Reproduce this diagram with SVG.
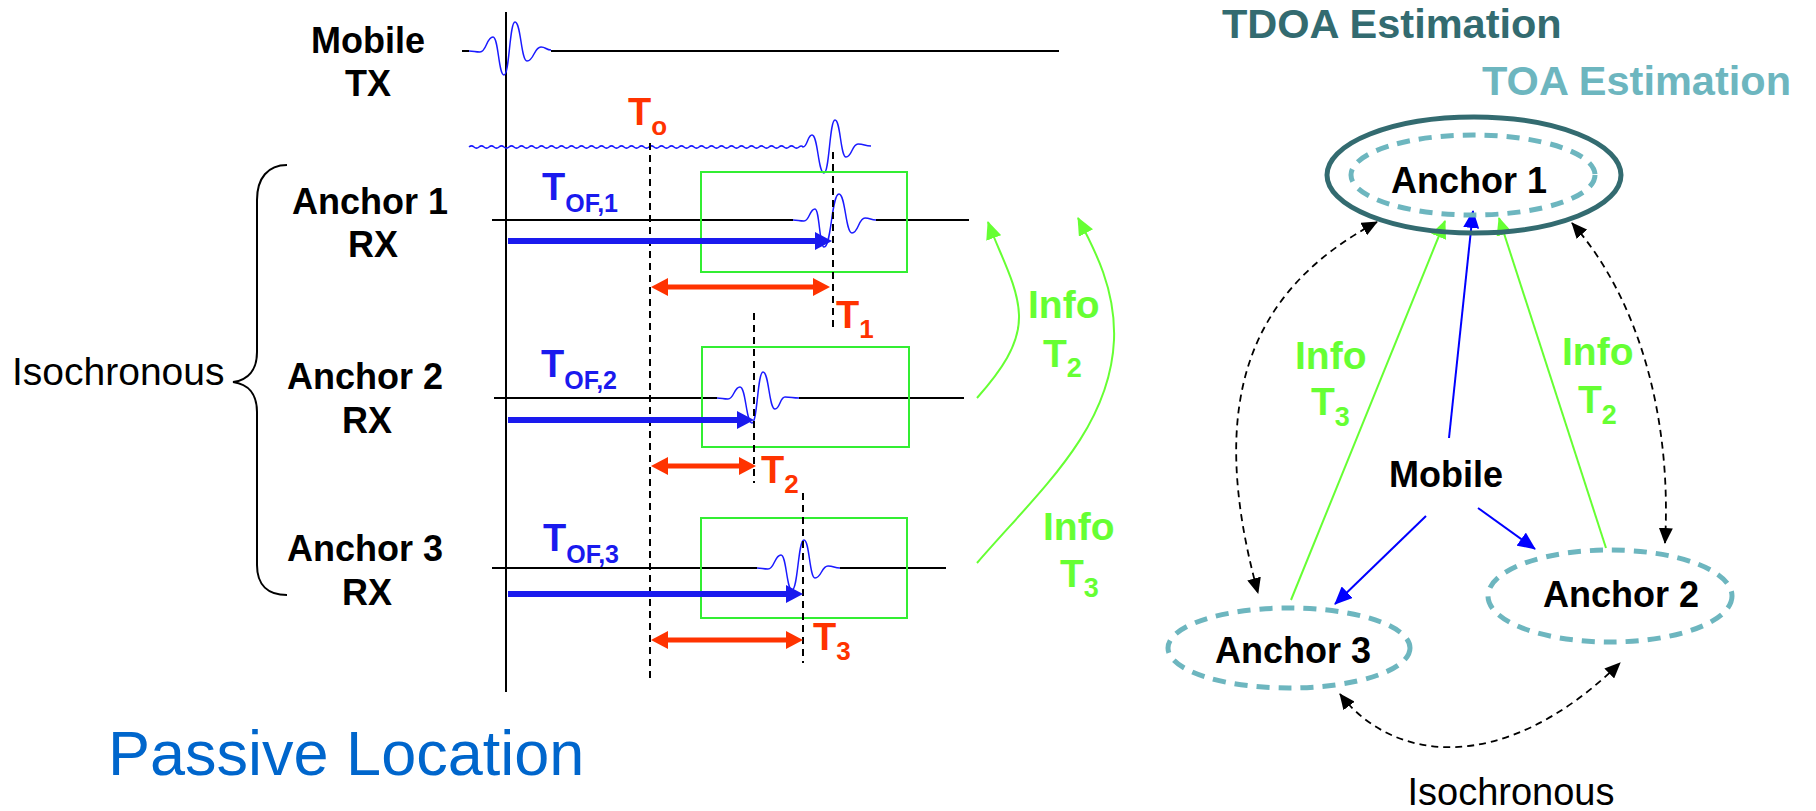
<svg xmlns="http://www.w3.org/2000/svg" width="1816" height="811" viewBox="0 0 1816 811">
<style>
text{font-family:"Liberation Sans",Arial,sans-serif}
.lbl{font-size:36px;font-weight:bold;fill:#000;text-anchor:middle}
.blk{stroke:#000;stroke-width:2;fill:none}
.dash{stroke:#000;stroke-width:2;fill:none;stroke-dasharray:7 5}
.pulse{stroke:#1a1aff;stroke-width:1.5;fill:none}
.win{stroke:#33ee33;stroke-width:2;fill:none}
.blue{fill:#1a1aee}
.red{fill:#ff3300}
.bt{font-size:38px;font-weight:bold}
.gtx{font-size:39px;font-weight:bold;fill:#66ff33}
.gline{stroke:#66ff33;stroke-width:2;fill:none}
.bline{stroke:#0000ff;stroke-width:2;fill:none}
.kdash{stroke:#000;stroke-width:1.8;fill:none;stroke-dasharray:7 5}
.toa{stroke:#6db6bf;stroke-width:5;fill:none;stroke-dasharray:13 9}
</style>
<defs>
<marker id="gHead" markerUnits="userSpaceOnUse" markerWidth="18" markerHeight="16" refX="17" refY="8" orient="auto"><path d="M0,0 L18,8 L0,16 Z" fill="#66ff33"/></marker>
<marker id="bHead" markerUnits="userSpaceOnUse" markerWidth="18" markerHeight="16" refX="17" refY="8" orient="auto"><path d="M0,0 L18,8 L0,16 Z" fill="#0000ff"/></marker>
<marker id="kHead" markerUnits="userSpaceOnUse" markerWidth="16" markerHeight="14" refX="15" refY="7" orient="auto-start-reverse"><path d="M0,0 L16,7 L0,14 Z" fill="#000"/></marker>
</defs>

<!-- left: timing diagram -->
<g id="axis">
<line x1="506" y1="12" x2="506" y2="692" class="blk"/>
</g>
<g id="brace">
<path class="blk" d="M287,165 C268,165 257,178 257,200 L257,352 C257,370 248,380 233,382 C248,384 257,394 257,412 L257,565 C257,585 268,595 287,595"/>
<text x="12" y="385" font-size="39" fill="#000">Isochronous</text>
</g>

<g id="mobile-tx">
<text class="lbl" x="368" y="53">Mobile</text>
<text class="lbl" x="368" y="96">TX</text>
<path class="blk" d="M462,51 H469 M551,51 H1059"/>
<path class="pulse" d="M469,51 C474.5,51 474.5,52 480,52 C486.5,52 486.5,37 493,37 C498.5,37 498.5,75 504,75 C509.5,75 509.5,22 515,22 C521,22 521,61 527,61 C534,61 534,47 541,47 C546,47 546,50 551,50"/>
</g>

<g id="received">
<path class="pulse" d="M469,147 q2.5,-2.2 5,0 t5,0 t5,0 t5,0 t5,0 t5,0 t5,0 t5,0 t5,0 t5,0 t5,0 t5,0 t5,0 t5,0 t5,0 t5,0 t5,0 t5,0 t5,0 t5,0 t5,0 t5,0 t5,0 t5,0 t5,0 t5,0 t5,0 t5,0 t5,0 t5,0 t5,0 t5,0 t5,0 t5,0 t5,0 t5,0 t5,0 t5,0 t5,0 t5,0 t5,0 t5,0 t5,0 t5,0 t5,0 t5,0 t5,0 t5,0 t5,0 t5,0 t5,0 t5,0 t5,0 t5,0 t5,0 t5,0 t5,0 t5,0 t5,0 t5,0 t5,0 t5,0 t5,0 t5,0 t5,0 t5,0 t4,0 C807.5,147 807.5,135 812,135 C818,135 818,173 824,173 C829.5,173 829.5,120 835,120 C840.5,120 840.5,157 846,157 C852,157 852,144 858,144 C864.5,144 864.5,146 871,146"/>
<text x="628" y="125" class="red bt">T<tspan font-size="26" dy="10">o</tspan></text>
<line x1="650" y1="143" x2="650" y2="680" class="dash"/>
</g>

<g id="anchor1-rx">
<text class="lbl" x="370" y="214">Anchor 1</text>
<text class="lbl" x="373" y="257">RX</text>
<path class="blk" d="M492,220 H793 M876,220 H969"/>
<rect class="win" x="701" y="172" width="206" height="100"/>
<path class="pulse" d="M793,220 C798.5,220 798.5,221 804,221 C809.5,221 809.5,209 815,209 C819.5,209 819.5,247 824,247 C831.5,247 831.5,194 839,194 C845.5,194 845.5,233 852,233 C858.5,233 858.5,218 865,218 C870.5,218 870.5,220 876,220"/>
<line x1="833" y1="152" x2="833" y2="327" class="dash"/>
<path d="M508,241 H816" stroke="#1a1aee" stroke-width="6"/>
<polygon class="blue" points="815,232 832,241 815,250"/>
<path d="M667,287 H814" stroke="#ff3300" stroke-width="5"/>
<polygon class="red" points="651,287 668,278 668,296"/>
<polygon class="red" points="830,287 813,278 813,296"/>
<text x="542" y="200" class="blue bt">T<tspan font-size="25" dy="12">OF,1</tspan></text>
<text x="836" y="328" class="red bt">T<tspan font-size="26" dy="10">1</tspan></text>
</g>

<g id="anchor2-rx">
<text class="lbl" x="365" y="389">Anchor 2</text>
<text class="lbl" x="367" y="433">RX</text>
<path class="blk" d="M494,398 H717 M799,398 H964"/>
<rect class="win" x="702" y="347" width="207" height="100"/>
<path class="pulse" d="M717,398 C722.5,398 722.5,399 728,399 C734,399 734,387 740,387 C746,387 746,423 752,423 C757.5,423 757.5,372 763,372 C769,372 769,409 775,409 C780,409 780,397 785,397 C792,397 792,398 799,398"/>
<line x1="754" y1="313" x2="754" y2="483" class="dash"/>
<path d="M508,420 H738" stroke="#1a1aee" stroke-width="6"/>
<polygon class="blue" points="737,411 754,420 737,429"/>
<path d="M667,466 H740" stroke="#ff3300" stroke-width="5"/>
<polygon class="red" points="651,466 668,457 668,475"/>
<polygon class="red" points="756,466 739,457 739,475"/>
<text x="541" y="377" class="blue bt">T<tspan font-size="25" dy="12">OF,2</tspan></text>
<text x="761" y="483" class="red bt">T<tspan font-size="26" dy="10">2</tspan></text>
</g>

<g id="anchor3-rx">
<text class="lbl" x="365" y="561">Anchor 3</text>
<text class="lbl" x="367" y="605">RX</text>
<path class="blk" d="M492,568 H757 M840,568 H946"/>
<rect class="win" x="701" y="518" width="206" height="100"/>
<path class="pulse" d="M757,568 C762.5,568 762.5,569 768,569 C774.5,569 774.5,555 781,555 C786.5,555 786.5,590 792,590 C798,590 798,540 804,540 C809.5,540 809.5,578 815,578 C821.5,578 821.5,566 828,566 C834,566 834,568 840,568"/>
<line x1="803" y1="493" x2="803" y2="663" class="dash"/>
<path d="M508,594 H787" stroke="#1a1aee" stroke-width="6"/>
<polygon class="blue" points="786,585 803,594 786,603"/>
<path d="M667,640 H787" stroke="#ff3300" stroke-width="5"/>
<polygon class="red" points="651,640 668,631 668,649"/>
<polygon class="red" points="803,640 786,631 786,649"/>
<text x="543" y="551" class="blue bt">T<tspan font-size="25" dy="12">OF,3</tspan></text>
<text x="813" y="650" class="red bt">T<tspan font-size="26" dy="10">3</tspan></text>
</g>

<g id="info-left">
<path class="gline" marker-end="url(#gHead)" d="M977,398 C1000,372 1020,345 1019,315 C1018,285 1000,255 988,222"/>
<path class="gline" marker-end="url(#gHead)" d="M977,563 C1040,490 1110,430 1114,340 C1116,290 1095,250 1078,218"/>
<text x="1028" y="318" class="gtx">Info</text>
<text x="1043" y="367" class="gtx">T<tspan font-size="27" dy="10">2</tspan></text>
<text x="1043" y="540" class="gtx">Info</text>
<text x="1060" y="587" class="gtx">T<tspan font-size="27" dy="10">3</tspan></text>
</g>

<text x="108" y="775" font-size="63" fill="#0066cc">Passive Location</text>

<!-- right: network diagram -->
<text x="1222" y="38" font-size="41.5" font-weight="bold" fill="#336b70">TDOA Estimation</text>
<text x="1482" y="95" font-size="41.5" font-weight="bold" fill="#6db6bf">TOA Estimation</text>

<g id="connectors">
<path class="kdash" marker-start="url(#kHead)" marker-end="url(#kHead)" d="M1377,222 C1250,290 1205,400 1258,593"/>
<path class="kdash" marker-start="url(#kHead)" marker-end="url(#kHead)" d="M1572,223 C1640,300 1672,420 1665,543"/>
<path class="kdash" marker-start="url(#kHead)" marker-end="url(#kHead)" d="M1340,694 C1390,760 1500,780 1620,663"/>
<line class="gline" marker-end="url(#gHead)" x1="1291" y1="600" x2="1445" y2="221"/>
<line class="gline" marker-end="url(#gHead)" x1="1606" y1="548" x2="1499" y2="218"/>
<line class="bline" marker-end="url(#bHead)" x1="1449" y1="438" x2="1473" y2="211"/>
<line class="bline" marker-end="url(#bHead)" x1="1426" y1="516" x2="1335" y2="604"/>
<line class="bline" marker-end="url(#bHead)" x1="1478" y1="508" x2="1535" y2="549"/>
<text x="1295" y="369" class="gtx">Info</text>
<text x="1311" y="415" class="gtx">T<tspan font-size="27" dy="11">3</tspan></text>
<text x="1562" y="365" class="gtx">Info</text>
<text x="1578" y="413" class="gtx">T<tspan font-size="27" dy="11">2</tspan></text>
<text x="1511" y="805" font-size="38" fill="#000" text-anchor="middle">Isochronous</text>
</g>

<g id="anchor1">
<ellipse cx="1474" cy="175" rx="147" ry="58" fill="none" stroke="#336b70" stroke-width="5"/>
<ellipse cx="1473" cy="175" rx="122" ry="40" class="toa"/>
<text class="lbl" x="1469" y="193">Anchor 1</text>
</g>
<g id="mobile">
<text class="lbl" x="1446" y="487">Mobile</text>
</g>
<g id="anchor2">
<ellipse cx="1610" cy="596" rx="122" ry="46" class="toa"/>
<text class="lbl" x="1621" y="607">Anchor 2</text>
</g>
<g id="anchor3">
<ellipse cx="1289" cy="648" rx="121" ry="40" class="toa"/>
<text class="lbl" x="1293" y="663">Anchor 3</text>
</g>
</svg>
